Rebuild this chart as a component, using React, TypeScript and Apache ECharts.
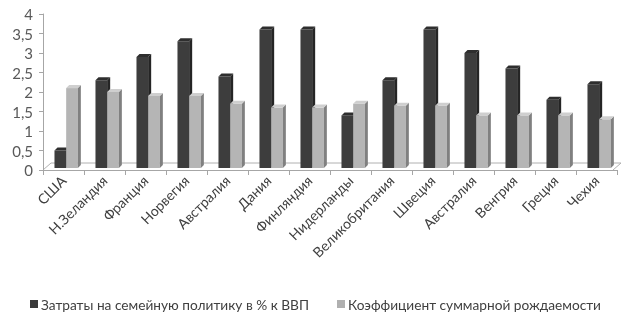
import React, { useEffect, useRef } from "react";
import * as echarts from "echarts";

const categories = ["США", "Н.Зеландия", "Франция", "Норвегия", "Австралия", "Дания", "Финляндия", "Нидерланды", "Великобритания", "Швеция", "Австралия", "Венгрия", "Греция", "Чехия"];
const spending = [0.5, 2.3, 2.9, 3.3, 2.4, 3.6, 3.6, 1.4, 2.3, 3.6, 3.0, 2.6, 1.8, 2.2];
const fertility = [2.1, 2.0, 1.9, 1.9, 1.7, 1.6, 1.6, 1.7, 1.65, 1.65, 1.4, 1.4, 1.4, 1.3];
const seriesNames = ["Затраты на семейную политику в % к ВВП", "Коэффициент суммарной рождаемости"];

const FONT = "Lato, 'Noto Sans', sans-serif";

function makeRender(front: string, side: string, top: string, offset: number) {
  return (params: any, api: any) => {
    const idx = api.value(0);
    const val = api.value(1);
    const t = api.coord([idx, val]);
    const b = api.coord([idx, 0]);
    const band = api.size([1, 0])[0];
    const w = band * 0.285;
    const x0 = t[0] + offset * band;
    const x1 = x0 + w;
    const yt = t[1];
    const yb = b[1] - 2;
    const dx = 3;
    const dy = -3;
    return {
      type: "group",
      children: [
        { type: "rect", shape: { x: x0, y: yt, width: w, height: yb - yt }, style: { fill: front } },
        { type: "polygon", shape: { points: [[x1, yt], [x1 + dx, yt + dy], [x1 + dx, yb + dy], [x1, yb]] }, style: { fill: side } },
        { type: "polygon", shape: { points: [[x0, yt], [x0 + dx, yt + dy], [x1 + dx, yt + dy], [x1, yt]] }, style: { fill: top } },
      ],
    };
  };
}

export default function App() {
  const ref = useRef<HTMLDivElement>(null);
  useEffect(() => {
    const chart = echarts.init(ref.current!, undefined, { renderer: "svg" });
    chart.setOption({
      animation: false,
      textStyle: { fontFamily: FONT },
      grid: { left: 43, right: 7, top: 14, bottom: 145 },
      legend: {
        top: 297,
        left: 30,
        padding: 0,
        itemGap: 28,
        itemWidth: 8,
        itemHeight: 8,
        icon: "rect",
        textStyle: { fontSize: 13.7, color: "#404040", fontFamily: FONT, padding: [0, 0, 0, -2] },
        data: seriesNames,
      },
      xAxis: {
        type: "category",
        data: categories,
        axisLine: { lineStyle: { color: "#a6a6a6" } },
        axisTick: { show: true, length: 5, lineStyle: { color: "#a6a6a6" } },
        axisLabel: { rotate: 45, fontSize: 14, color: "#404040", fontFamily: FONT, margin: 8, interval: 0 },
      },
      yAxis: {
        type: "value",
        min: 0,
        max: 4,
        interval: 0.5,
        axisLine: { show: true, lineStyle: { color: "#a6a6a6" } },
        axisTick: { show: true, length: 4, lineStyle: { color: "#a6a6a6" } },
        splitLine: { show: false },
        axisLabel: { fontSize: 15, color: "#595959", fontFamily: FONT, margin: 10, formatter: (v: number) => String(v).replace(".", ",") },
      },
      series: [
        {
          name: seriesNames[0],
          type: "custom",
          itemStyle: { color: "#3a3a3a" },
          encode: { x: 0, y: 1 },
          data: spending.map((v, i) => [i, v]),
          renderItem: makeRender("#3d3d3d", "#252525", "#2e2e2e", -0.22),
        },
        {
          name: seriesNames[1],
          type: "custom",
          itemStyle: { color: "#b0b0b0" },
          encode: { x: 0, y: 1 },
          data: fertility.map((v, i) => [i, v]),
          renderItem: makeRender("#b5b5b5", "#808080", "#cfcfcf", 0.065),
        },
      ],
      graphic: [
        {
          type: "polyline",
          shape: { points: [[43, 170], [51, 163], [621, 163], [613, 170]] },
          style: { stroke: "#b0b0b0", fill: "none", lineWidth: 1 },
          z: -1,
        },
      ],
    });
    return () => chart.dispose();
  }, []);
  return <div ref={ref} style={{ position: "fixed", left: 0, top: 0, width: 624, height: 315 }} />;
}
